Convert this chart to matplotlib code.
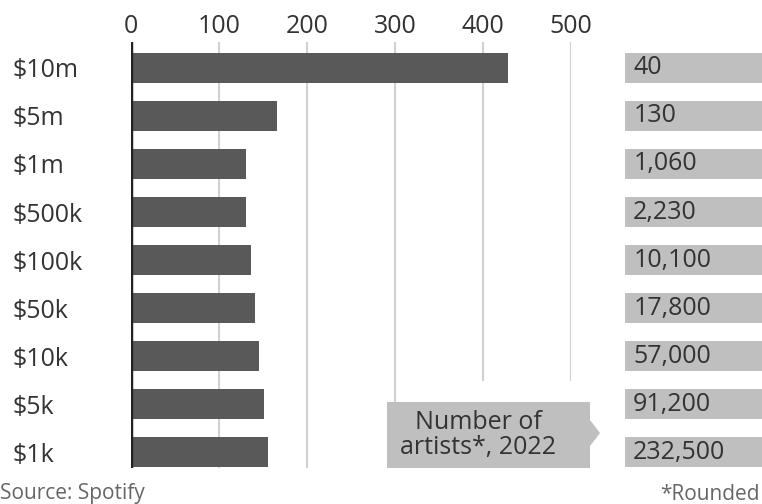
import matplotlib.pyplot as plt
from matplotlib.patches import Polygon

plt.rcParams['font.family'] = ['Open Sans', 'DejaVu Sans']

tiers = ['$10m', '$5m', '$1m', '$500k', '$100k', '$50k', '$10k', '$5k', '$1k']
values = [428, 166, 131, 131, 136, 141, 146, 151, 156]
artists = ['40', '130', '1,060', '2,230', '10,100', '17,800', '57,000', '91,200', '232,500']
ticks = [0, 100, 200, 300, 400, 500]

W, H = 762, 504
fig = plt.figure(figsize=(W / 100, H / 100), dpi=100)

def rect(x0, y0, x1, y1):
    return [x0 / W, 1 - y1 / H, (x1 - x0) / W, (y1 - y0) / H]

bar_col = '#595959'
box_col = '#bfbfbf'
txt_col = '#333333'
fs = 18

ax = fig.add_axes(rect(131, 42, 571, 468))
ypos = list(range(len(tiers)))
ax.set_ylim(8.33, -0.54)
ax.set_xlim(0, 500)

# gridlines (400/500 stop above the callout)
for t in ticks[1:]:
    bottom = 0.0 if t < 400 else (468 - 380) / 426
    ax.axvline(t, ymin=bottom, ymax=1.0, color='#d0d0d0', lw=1.5, zorder=0)
ax.barh(ypos, values, height=0.62, color=bar_col, zorder=2)
ax.axvline(0, color='#222222', lw=2.5, zorder=3)

ax.set_xticks(ticks)
ax.xaxis.tick_top()
ax.tick_params(axis='x', length=0, pad=2, labelsize=fs, labelcolor=txt_col)
ax.set_yticks(ypos)
ax.set_yticklabels(tiers)
ax.tick_params(axis='y', length=0, labelsize=fs, labelcolor=txt_col, pad=119 * 0.72)
for lab in ax.get_yticklabels():
    lab.set_horizontalalignment('left')
for s in ax.spines.values():
    s.set_visible(False)

# right column of artist counts
ax2 = fig.add_axes(rect(625, 42, 762, 468))
ax2.set_ylim(8.33, -0.54)
ax2.set_xlim(0, 1)
ax2.barh(ypos, [1] * len(artists), height=0.62, color=box_col)
for y, a in zip(ypos, artists):
    ax2.text(0.06, y, a, va='center', ha='left', fontsize=fs, color=txt_col)
ax2.axis('off')

# callout
pts = [(387, 402), (590, 402), (590, 420), (600, 433), (590, 446), (590, 468), (387, 468)]
fig.patches.append(Polygon([(x / W, 1 - y / H) for x, y in pts], closed=True,
                           transform=fig.transFigure, facecolor=box_col, edgecolor='none'))
fig.text(478 / W, 1 - 435 / H, 'Number of\nartists*, 2022', ha='center', va='center',
         fontsize=fs, color=txt_col, linespacing=0.95)

fig.text(0, 1 - 494 / H, 'Source: Spotify', ha='left', va='center', fontsize=15, color='#666666')
fig.text(760 / W, 1 - 494 / H, '*Rounded', ha='right', va='center', fontsize=15, color='#666666')

fig.savefig('out.png', dpi=100)
